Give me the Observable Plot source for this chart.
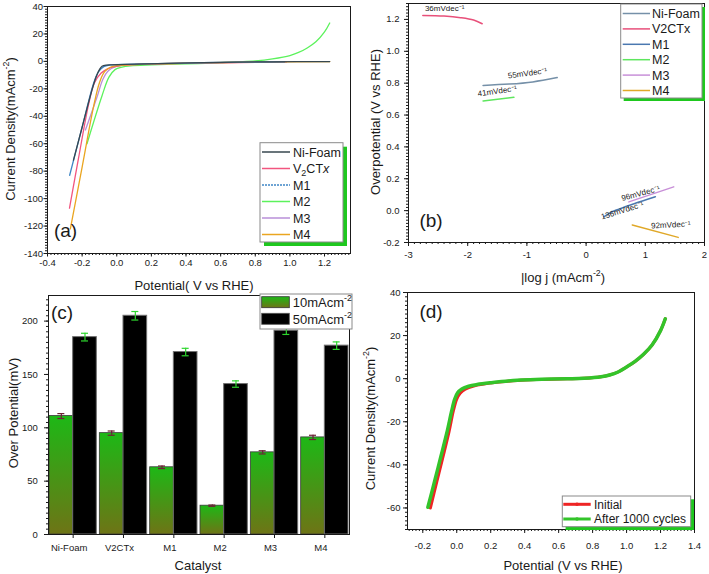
<!DOCTYPE html>
<html><head><meta charset="utf-8">
<script src="https://cdn.jsdelivr.net/npm/d3@7"></script>
<script src="https://cdn.jsdelivr.net/npm/@observablehq/plot@0.6"></script>
<style>
body{margin:0;background:#fff;}
#fig{position:relative;width:709px;height:574px;overflow:hidden;background:#fff;}
#fig svg{position:absolute;overflow:visible;}
</style></head><body><div id="fig"></div>
<script>
// ---------- DATA ----------
// (a) LSV curves: [potential V vs RHE, current density mA cm^-2]
const aNiFoam = [[-0.25,-72],[-0.2,-48],[-0.15,-24],[-0.12,-11.5],[-0.1,-6],[-0.085,-3.6],[-0.06,-2.7],[0.05,-2.2],[0.3,-1.4],[0.6,-0.7],[0.9,-0.3],[1.23,-0.1]];
const aV2CTx  = [[-0.273,-107],[-0.22,-70],[-0.162,-31],[-0.13,-16],[-0.09,-8.5],[-0.05,-5.3],[-0.018,-4],[0.03,-2.9],[0.1,-2.3],[0.3,-1.6],[0.6,-1.0],[0.9,-0.5],[0.98,-0.4]];
const aM1     = [[-0.272,-83],[-0.2,-48],[-0.134,-16],[-0.105,-7.5],[-0.075,-3.8],[-0.04,-2.6],[0.1,-2.0],[0.4,-1.2],[0.7,-0.6],[0.97,-0.3]];
const aM2     = [[-0.172,-60],[-0.085,-25],[-0.045,-11.5],[-0.01,-6],[0.03,-4.2],[0.08,-3.3],[0.2,-2.6],[0.4,-1.8],[0.6,-1.0],[0.7,-0.4],[0.8,0.3],[0.9,1.8],[1.0,4.2],[1.05,6.5],[1.1,9.8],[1.15,14.3],[1.2,21.5],[1.23,28]];
const aM3     = [[-0.181,-50],[-0.114,-26],[-0.08,-13],[-0.047,-6.6],[-0.01,-4],[0.05,-2.7],[0.2,-1.9],[0.5,-1.1],[0.8,-0.5],[0.97,-0.3]];
const aM4     = [[-0.268,-122],[-0.2,-77],[-0.134,-33],[-0.1,-15.5],[-0.07,-7.5],[-0.037,-4.3],[0.0,-3.1],[0.1,-2.3],[0.4,-1.3],[0.8,-0.5],[1.23,-0.1]];
const aXTickVals = [-0.4,-0.2,0,0.2,0.4,0.6,0.8,1.0,1.2];
const aYTickVals = [-140,-120,-100,-80,-60,-40,-20,0,20,40];
const aLegendNames = ["Ni-Foam","V<tspan dy='3' font-size='9'>2</tspan><tspan dy='-3'>CT</tspan><tspan font-style='italic'>x</tspan>","M1","M2","M3","M4"];

// (b) Tafel plots: [log j, overpotential V]
const bNiFoam = [[-1.74,0.786],[-1.3,0.794],[-0.9,0.808],[-0.488,0.835]];
const bV2CTx  = [[-2.758,1.225],[-2.4,1.221],[-2.12,1.211],[-1.9,1.196],[-1.755,1.173]];
const bM1     = [[0.30,-0.039],[0.4,-0.016],[0.5,0.002],[0.8,0.042],[1.17,0.087]];
const bM2     = [[-1.74,0.688],[-1.22,0.711]];
const bM3     = [[0.722,0.055],[1.48,0.149]];
const bM4     = [[0.78,-0.09],[1.556,-0.168]];
const bSlopeText = ["36mVdec⁻¹","55mVdec⁻¹","41mVdec⁻¹","96mVdec⁻¹","136mVdec⁻¹","92mVdec⁻¹"];
const bSlopeX    = [-2.39,-0.99,-1.5,0.92,0.61,1.43];
const bSlopeY    = [1.268,0.862,0.75,0.108,0.0,-0.09];
const bSlopeRot  = [0,-8,-8,-15,-17,-3];
const bXTickVals = [-3,-2,-1,0,1,2];
const bYTickVals = [-0.2,0,0.2,0.4,0.6,0.8,1.0,1.2];
const bLegendNames = ["Ni-Foam","V2CTx","M1","M2","M3","M4"];

// (c) overpotentials (mV)
const cCats   = ["Ni-Foam","V2CTx","M1","M2","M3","M4"];
const c10     = [111, 95, 63, 27, 77, 91];
const c10Err  = [2.3, 2, 1.2, 0.6, 1.5, 2];
const c50     = [185, 205, 171, 141, 191, 177];
const c50Err  = [3.6, 4, 3.5, 3, 3.5, 3.5];
const cYTickVals = [0,50,100,150,200];

// (d) stability LSV
const dInitial = [[-0.155,-60],[-0.118,-48],[-0.08,-36],[-0.045,-24.5],[-0.02,-15],[0.0,-9.5],[0.02,-6.8],[0.05,-4.9],[0.1,-3.4],[0.16,-2.5],[0.25,-1.6],[0.356,-0.8],[0.5,-0.35],[0.65,-0.05],[0.75,0.2],[0.85,0.9],[0.9,1.7],[0.95,3.1],[1.0,5.4],[1.05,8],[1.1,11.3],[1.15,15.6],[1.2,22.3],[1.228,27.8]];
const dCycled  = [[-0.17,-59.7],[-0.13,-47.5],[-0.093,-36],[-0.055,-24],[-0.03,-15],[-0.012,-9.5],[0.005,-6.6],[0.03,-4.8],[0.07,-3.5],[0.12,-2.7],[0.2,-1.9],[0.356,-0.7],[0.5,-0.3],[0.65,-0.05],[0.75,0.2],[0.85,0.9],[0.9,1.7],[0.95,3.1],[1.0,5.4],[1.05,8],[1.1,11.3],[1.15,15.6],[1.2,22.3],[1.228,27.8]];
const dXTickVals = [-0.2,0,0.2,0.4,0.6,0.8,1.0,1.2,1.4];
const dYTickVals = [-60,-40,-20,0,20,40];

// ---------- STYLE ----------
const FONT = "'Liberation Sans', Arial, Helvetica, sans-serif";
const INK = "#1a1a1a";
const SHADOW = "#1ec81e";
const colA = {Ni:"#37474f", V:"#f2557f", M1:"#3f86c6", M2:"#5cf25c", M3:"#b98fd8", M4:"#eaa520"};
const colB = {Ni:"#7590a8", V:"#e8507a", M1:"#4a78b0", M2:"#5ee65e", M3:"#c890d8", M4:"#e0a828"};
const baseStyle = {fontFamily: FONT, fontSize: "9.5px", color: INK, background: "transparent", overflow: "visible"};
const fig = document.getElementById("fig");

const range = (lo, hi, step) => d3.range(Math.round((hi - lo) / step) + 1).map(i => +(lo + i * step).toFixed(6));
const f1 = d => d.toFixed(1);
const f0 = d => String(d);

function axisMarks({xTicks, xMinor, yTicks, yMinor, xFmt, yFmt, xPad, yPad, xSize = 4, ySize = 4}) {
  const m = [];
  if (xMinor) m.push(Plot.axisX({ticks: xMinor, tickSize: 2, fill: "none", label: null, stroke: INK}));
  if (xTicks) m.push(Plot.axisX({ticks: xTicks, tickSize: xSize, tickPadding: xPad, tickFormat: xFmt, label: null, stroke: INK}));
  if (yMinor) m.push(Plot.axisY({ticks: yMinor, tickSize: 2, fill: "none", label: null, stroke: INK}));
  if (yTicks) m.push(Plot.axisY({ticks: yTicks, tickSize: ySize, tickPadding: yPad, tickFormat: yFmt, label: null, stroke: INK}));
  return m;
}
function place(svg, left, top) { svg.style.left = left + "px"; svg.style.top = top + "px"; fig.appendChild(svg); }
function txt(svg, x, y, html, {size = 13, anchor = "middle", rotate = 0, fill = INK} = {}) {
  d3.select(svg).append("text")
    .attr("transform", `translate(${x},${y}) rotate(${rotate})`)
    .attr("text-anchor", anchor).attr("font-size", size).attr("font-family", FONT)
    .attr("fill", fill).html(html);
}
const sup = (s, size, after) => `<tspan dy="${-size*0.42}" font-size="${size*0.68}">${s}</tspan><tspan dy="${size*0.42}">${after}</tspan>`;

function lineLegend(svg, {x, y, w, h, shadow, rows, y0, step, sx0, sx1, tx, size, lw = 1.5, marker = false}) {
  const g = d3.select(svg).append("g");
  if (shadow) g.append("rect").attr("x", x + shadow[0]).attr("y", y + shadow[1]).attr("width", w).attr("height", h).attr("fill", SHADOW);
  g.append("rect").attr("x", x).attr("y", y).attr("width", w).attr("height", h).attr("fill", "#fff").attr("stroke", "#8a8a8a").attr("stroke-width", 1);
  rows.forEach((r, i) => {
    const cy = y0 + i * step;
    g.append("line").attr("x1", sx0).attr("x2", sx1).attr("y1", cy).attr("y2", cy)
      .attr("stroke", r.color).attr("stroke-width", lw).attr("stroke-dasharray", r.dash || null);
    if (marker) g.append("circle").attr("cx", (sx0 + sx1) / 2).attr("cy", cy).attr("r", 1.8).attr("fill", r.color);
    g.append("text").attr("x", tx).attr("y", cy + size * 0.36).attr("text-anchor", "start")
      .attr("font-size", size).attr("font-family", FONT).attr("fill", INK).html(r.html);
  });
}
const X = d => d[0], Y = d => d[1];

// ---------- PANEL (a) ----------
{
  const ln = (data, color, w = 1.3) => Plot.line(data, {x: X, y: Y, stroke: color, strokeWidth: w, curve: "catmull-rom"});
  const svg = Plot.plot({
    width: 355, height: 296, marginLeft: 47, marginRight: 5, marginTop: 6, marginBottom: 43,
    x: {domain: [-0.4, 1.35], label: null}, y: {domain: [-140, 40], label: null},
    style: baseStyle,
    marks: [
      ...axisMarks({xTicks: aXTickVals, xMinor: range(-0.4, 1.34, 0.02), yTicks: aYTickVals, yMinor: range(-140, 40, 2),
                    xFmt: f1, yFmt: f0, xPad: 2, yPad: 1, xSize: 3.5, ySize: 3.5}),
      ln(aM2, colA.M2), ln(aM3, colA.M3), ln(aV2CTx, colA.V), ln(aM4, colA.M4), ln(aM1, colA.M1), ln(aNiFoam, colA.Ni),
      Plot.frame({stroke: INK})
    ]
  });
  place(svg, 0, 0);
  txt(svg, 194, 290, "Potential( V vs RHE)", {size: 13});
  txt(svg, 14.5, 129, "Current Density(mAcm" + sup("-2", 13, ")"), {size: 13, rotate: -90});
  txt(svg, 65.5, 237, "(a)", {size: 19});
  const cols = [colA.Ni, colA.V, colA.M1, colA.M2, colA.M3, colA.M4];
  lineLegend(svg, {x: 260, y: 142.7, w: 83, h: 99.3, shadow: [4, 4],
    rows: aLegendNames.map((n, i) => ({html: n, color: cols[i], dash: i === 2 ? "2,1" : null})),
    y0: 152, step: 16.5, sx0: 262, sx1: 290, tx: 293, size: 12.5, lw: 1.5});
}

// ---------- PANEL (b) ----------
{
  const ln = (data, color) => Plot.line(data, {x: X, y: Y, stroke: color, strokeWidth: 1.5, curve: "catmull-rom"});
  const svg = Plot.plot({
    width: 359, height: 290, marginLeft: 58, marginRight: 5, marginTop: 3, marginBottom: 48,
    x: {domain: [-3, 2], label: null}, y: {domain: [-0.2, 1.3], label: null},
    style: baseStyle,
    marks: [
      ...axisMarks({xTicks: bXTickVals, xMinor: range(-3, 2, 0.1), yTicks: bYTickVals, yMinor: range(-0.2, 1.3, 0.02),
                    xFmt: f0, yFmt: f1, xPad: 4.6, yPad: 5}),
      ln(bV2CTx, colB.V), ln(bNiFoam, colB.Ni), ln(bM2, colB.M2), ln(bM3, colB.M3), ln(bM1, colB.M1), ln(bM4, colB.M4),
      Plot.text(bSlopeText, {x: (d, i) => bSlopeX[i], y: (d, i) => bSlopeY[i], rotate: (d, i) => bSlopeRot[i],
                             text: d => d, fontSize: 8, fill: "#222"}),
      Plot.frame({stroke: INK})
    ]
  });
  place(svg, 350, 0);
  txt(svg, 213, 281.5, "|log j (mAcm" + sup("-2", 13, ")"), {size: 13});
  txt(svg, 29.5, 122, "Overpotential (V vs RHE)", {size: 13, rotate: -90});
  txt(svg, 81, 227, "(b)", {size: 19});
  const cols = [colB.Ni, colB.V, colB.M1, colB.M2, colB.M3, colB.M4];
  lineLegend(svg, {x: 270.7, y: 4, w: 81.3, h: 94, shadow: [3, 3],
    rows: bLegendNames.map((n, i) => ({html: n, color: cols[i]})),
    y0: 13.5, step: 15.4, sx0: 272.7, sx1: 300, tx: 302, size: 12.5, lw: 1.5});
}

// ---------- PANEL (c) ----------
{
  const rows = cCats.map((c, i) => ({cat: c, v10: c10[i], e10: c10Err[i], v50: c50[i], e50: c50Err[i]}));
  const L = 48, R = 349;
  const xb = d3.scaleBand(cCats, [L, R]).paddingInner(0.06).paddingOuter(0.02);
  const bw = xb.bandwidth(), half = bw / 2, cap = 7, capIn = (bw - cap) / 2;
  const errRed = "#6e2236", errGreen = "#2ed62e";
  const svg = Plot.plot({
    width: 355, height: 294, marginLeft: L, marginRight: 355 - R, marginTop: 15, marginBottom: 40,
    x: {type: "band", domain: cCats, paddingInner: 0.06, paddingOuter: 0.02, round: false, label: null},
    y: {domain: [0, 224], label: null},
    style: baseStyle,
    marks: [
      Plot.axisX({tickSize: 4, fill: "none", label: null, stroke: INK}),
      Plot.axisX({tickSize: 0, tickPadding: 9.5, dx: -4, label: null}),
      ...axisMarks({yTicks: cYTickVals, yMinor: range(0, 220, 5), yFmt: f0, yPad: 6.7}),
      Plot.barY(rows, {x: "cat", y: "v10", fill: "url(#gbar)", stroke: "#3a3a3a", strokeWidth: 0.8, insetRight: half}),
      Plot.barY(rows, {x: "cat", y: "v50", fill: "#000", stroke: "#707070", strokeWidth: 1, insetLeft: half}),
      Plot.ruleX(rows, {x: "cat", y1: d => d.v10 - d.e10, y2: d => d.v10 + d.e10, dx: -half / 2, stroke: errRed, strokeWidth: 1.2}),
      Plot.tickY(rows, {x: "cat", y: d => d.v10 + d.e10, dx: -half / 2, insetLeft: capIn, insetRight: capIn, stroke: errRed, strokeWidth: 1.2}),
      Plot.tickY(rows, {x: "cat", y: d => d.v10 - d.e10, dx: -half / 2, insetLeft: capIn, insetRight: capIn, stroke: errRed, strokeWidth: 1.2}),
      Plot.ruleX(rows, {x: "cat", y1: d => d.v50 - d.e50, y2: d => d.v50 + d.e50, dx: half / 2, stroke: errGreen, strokeWidth: 1.2}),
      Plot.tickY(rows, {x: "cat", y: d => d.v50 + d.e50, dx: half / 2, insetLeft: capIn, insetRight: capIn, stroke: errGreen, strokeWidth: 1.2}),
      Plot.tickY(rows, {x: "cat", y: d => d.v50 - d.e50, dx: half / 2, insetLeft: capIn, insetRight: capIn, stroke: errGreen, strokeWidth: 1.2}),
      Plot.frame({stroke: INK})
    ]
  });
  const defs = d3.select(svg).insert("defs", ":first-child");
  const gr = defs.append("linearGradient").attr("id", "gbar").attr("x1", 0).attr("y1", 0).attr("x2", 0).attr("y2", 1);
  gr.append("stop").attr("offset", "0%").attr("stop-color", "#1db816");
  gr.append("stop").attr("offset", "100%").attr("stop-color", "#6e7416");
  place(svg, 0, 280);
  txt(svg, 198, 289.5, "Catalyst", {size: 13});
  txt(svg, 17.5, 133, "Over Potential(mV)", {size: 13, rotate: -90});
  txt(svg, 62, 38.5, "(c)", {size: 19});
  const g = d3.select(svg).append("g");
  g.append("rect").attr("x", 260).attr("y", 14).attr("width", 92).attr("height", 35).attr("fill", "#fff").attr("stroke", "#8a8a8a");
  g.append("rect").attr("x", 261.7).attr("y", 16.7).attr("width", 27.6).attr("height", 11).attr("fill", "url(#gbar)").attr("stroke", "#333").attr("stroke-width", 0.8);
  g.append("rect").attr("x", 261.7).attr("y", 33.3).attr("width", 27.6).attr("height", 11).attr("fill", "#000").attr("stroke", "#555").attr("stroke-width", 0.8);
  txt(svg, 292.7, 26.9, "10mAcm" + sup("-2", 13, ""), {size: 13, anchor: "start"});
  txt(svg, 292.7, 43.5, "50mAcm" + sup("-2", 13, ""), {size: 13, anchor: "start"});
}

// ---------- PANEL (d) ----------
{
  const red = "#ee2424", green = "#33c42a";
  const svg = Plot.plot({
    width: 359, height: 294, marginLeft: 57, marginRight: 15, marginTop: 12, marginBottom: 45,
    x: {domain: [-0.29, 1.4], label: null}, y: {domain: [-70, 40], label: null},
    style: baseStyle,
    marks: [
      ...axisMarks({xTicks: dXTickVals, xMinor: range(-0.28, 1.4, 0.02), yTicks: dYTickVals, yMinor: range(-70, 40, 2),
                    xFmt: f1, yFmt: f0, xPad: 8.3, yPad: 3}),
      Plot.line(dInitial, {x: X, y: Y, stroke: red, strokeWidth: 3, curve: "catmull-rom"}),
      Plot.line(dCycled, {x: X, y: Y, stroke: green, strokeWidth: 3.5, curve: "catmull-rom"}),
      Plot.frame({stroke: INK})
    ]
  });
  place(svg, 350, 280);
  txt(svg, 213, 289.5, "Potential (V vs RHE)", {size: 13});
  txt(svg, 24.5, 138.5, "Current Density(mAcm" + sup("-2", 13, ")"), {size: 13, rotate: -90});
  txt(svg, 81, 37.5, "(d)", {size: 19});
  lineLegend(svg, {x: 212.3, y: 216, w: 128.4, h: 30.7, shadow: [3.3, 3.3],
    rows: [{html: "Initial", color: red}, {html: "After 1000 cycles", color: green}],
    y0: 224.3, step: 14.7, sx0: 213.3, sx1: 240.7, tx: 244, size: 12, lw: 3, marker: true});
}
</script></body></html>
